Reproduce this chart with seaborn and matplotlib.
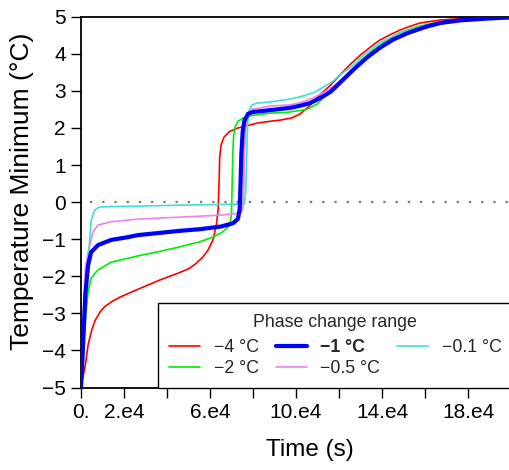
import numpy as np
import pandas as pd
import matplotlib
matplotlib.use("Agg")
import matplotlib.pyplot as plt
import seaborn as sns
from matplotlib.lines import Line2D

# ---- data (time in units of 1e4 s, temperature in degC) ----
labels = ["\u22124 \u00b0C", "\u22122 \u00b0C", "\u22121 \u00b0C", "\u22120.5 \u00b0C", "\u22120.1 \u00b0C"]
colors = ["#ff0000", "#00ee00", "#0000ff", "#ee82ee", "#40e0d0"]

t_m4 = [0, 0.1, 0.2, 0.33, 0.5, 0.65, 0.9, 1.1, 1.5, 1.86, 2.65, 3.67, 4.5, 5.0, 5.3, 5.67, 5.9, 6.14, 6.3, 6.38,
        6.42, 6.45, 6.52, 6.65, 6.9, 7.3, 8.2, 8.8, 9.26, 9.8, 10.2, 10.6, 11.1, 11.6, 12.05, 12.5, 13.0,
        13.5, 13.9, 14.4, 14.84, 15.3, 15.77, 16.7, 17.95, 19.0, 20.5]
y_m4 = [-5, -4.7, -4.4, -3.85, -3.45, -3.2, -2.95, -2.82, -2.66, -2.55, -2.35, -2.1, -1.92, -1.8, -1.68, -1.48,
        -1.3, -1.02, -0.6, -0.2, 0.5, 1.2, 1.55, 1.75, 1.9, 2.0, 2.13, 2.18, 2.21, 2.27, 2.38, 2.58, 2.89, 3.15,
        3.43, 3.7, 3.97, 4.2, 4.37, 4.52, 4.64, 4.74, 4.83, 4.91, 4.96, 4.98, 5.0]

t_m2 = [0, 0.1, 0.2, 0.33, 0.47, 0.79, 1.4, 2.14, 2.65, 3.67, 4.5, 5.53, 6.2, 6.6, 6.93, 7.0, 7.03, 7.06,
        7.1, 7.18, 7.3, 7.55, 7.86, 8.3, 8.8, 9.58, 10.5, 11.0, 11.4, 12.0, 12.5, 13.0, 13.6, 14.2, 14.8,
        15.6, 16.4, 17.3, 18.2, 19.2, 20.5]
y_m2 = [-5, -4.2, -3.2, -2.42, -2.05, -1.83, -1.62, -1.52, -1.45, -1.33, -1.22, -1.07, -0.93, -0.8, -0.62,
        -0.3, 0.5, 1.3, 1.8, 2.05, 2.18, 2.27, 2.33, 2.36, 2.4, 2.42, 2.5, 2.65, 2.89, 3.2, 3.5, 3.8, 4.1,
        4.35, 4.56, 4.72, 4.83, 4.9, 4.94, 4.97, 4.99]

t_m1 = [0, 0.1, 0.2, 0.33, 0.47, 0.79, 1.4, 2.14, 2.65, 3.67, 4.5, 5.53, 6.5, 7.07, 7.3, 7.38, 7.42, 7.46,
        7.52, 7.6, 7.77, 8.0, 8.33, 8.79, 9.72, 10.2, 10.65, 11.1, 11.6, 12.1, 12.65, 13.3, 13.9, 14.5,
        15.2, 16.0, 16.7, 17.6, 18.6, 19.6, 20.5]
y_m1 = [-5, -3.8, -2.5, -1.7, -1.35, -1.16, -1.02, -0.95, -0.89, -0.83, -0.78, -0.73, -0.66, -0.57, -0.45,
        -0.2, 0.5, 1.3, 1.9, 2.2, 2.38, 2.43, 2.45, 2.48, 2.54, 2.6, 2.67, 2.8, 2.97, 3.25, 3.56, 3.9, 4.16,
        4.38, 4.56, 4.72, 4.83, 4.9, 4.94, 4.97, 4.99]

t_m05 = [0, 0.1, 0.2, 0.33, 0.42, 0.56, 0.79, 1.4, 2.65, 3.67, 5.2, 6.5, 7.4, 7.52, 7.57, 7.6, 7.64, 7.7,
         7.8, 7.95, 8.33, 8.79, 9.72, 10.3, 10.8, 11.2, 11.7, 12.2, 12.8, 13.4, 14.0, 14.7, 15.4, 16.2,
         17.0, 18.0, 18.9, 20.5]
y_m05 = [-5, -3.2, -1.8, -1.35, -1.16, -0.8, -0.62, -0.53, -0.46, -0.43, -0.39, -0.35, -0.3, -0.2, 0.5,
         1.3, 1.9, 2.25, 2.42, 2.5, 2.54, 2.59, 2.62, 2.7, 2.81, 2.93, 3.1, 3.35, 3.64, 3.92, 4.18, 4.4,
         4.59, 4.73, 4.83, 4.9, 4.94, 4.98]

t_m01 = [0, 0.1, 0.2, 0.33, 0.42, 0.47, 0.56, 0.65, 0.8, 0.93, 1.5, 2.65, 4.0, 6.0, 7.6, 7.66, 7.7, 7.72,
         7.75, 7.8, 7.95, 8.2, 8.79, 9.26, 9.72, 10.2, 10.8, 11.1, 11.7, 12.05, 12.8, 13.0, 13.9, 14.84,
         15.77, 17.0, 18.2, 19.2, 20.5]
y_m01 = [-5, -3.6, -2.6, -1.6, -0.9, -0.53, -0.32, -0.21, -0.15, -0.13, -0.12, -0.11, -0.09, -0.07, -0.05,
         0.3, 1.0, 1.6, 2.1, 2.45, 2.62, 2.67, 2.7, 2.74, 2.78, 2.84, 2.95, 3.04, 3.25, 3.43, 3.75, 3.89,
         4.29, 4.56, 4.72, 4.86, 4.94, 4.97, 4.99]

series_t = [t_m4, t_m2, t_m1, t_m05, t_m01]
series_y = [y_m4, y_m2, y_m1, y_m05, y_m01]

xtick_vals = [0, 2, 4, 6, 8, 10, 12, 14, 16, 18, 20]
xtick_labels = ["0.", "2.e4", "", "6.e4", "", "10.e4", "", "14.e4", "", "18.e4", ""]
ytick_vals = [-5, -4, -3, -2, -1, 0, 1, 2, 3, 4, 5]

# ---- plotting ----
sns.set_theme(style="white")
plt.rcParams["font.family"] = ["Liberation Sans", "DejaVu Sans"]
plt.rcParams["axes.unicode_minus"] = True

W, H = 509, 470
fig = plt.figure(figsize=(W / 100, H / 100), dpi=100)
ax_l, ax_r, ax_t, ax_b = 81, 511, 16.7, 387.5
ax = fig.add_axes([ax_l / W, 1 - ax_b / H, (ax_r - ax_l) / W, (ax_b - ax_t) / H])

widths = [1.2, 1.2, 3.0, 1.2, 1.2]
frames = []
for lab, t, y in zip(labels, series_t, series_y):
    frames.append(pd.DataFrame({"time": np.array(t) * 1e4, "temp": y, "range": lab}))
df = pd.concat(frames, ignore_index=True)

ax.plot([0.4e4, 20e4], [0, 0], linestyle=(0, (1, 4.5)), color="#777777", lw=1.6, zorder=1)

for lab, col, lw in zip(labels, colors, widths):
    sub = df[df["range"] == lab]
    sns.lineplot(data=sub, x="time", y="temp", color=col, lw=lw, ax=ax, sort=False,
                 estimator=None, legend=False, zorder=3 if lw > 2 else 2)

ax.set_xlim(0, 20e4)
ax.set_ylim(-5, 5)
ax.set_xticks([v * 1e4 for v in xtick_vals])
ax.set_xticklabels(xtick_labels)
ax.set_yticks(ytick_vals)
ax.set_yticklabels([str(v).replace("-", "\u2212") for v in ytick_vals])
ax.tick_params(axis="both", direction="out", length=7, width=1, color="black",
               labelsize=15, labelcolor="black", pad=4, left=True, bottom=True)
for s in ["left", "bottom", "top", "right"]:
    ax.spines[s].set_visible(True)
    ax.spines[s].set_color("black")
    ax.spines[s].set_linewidth(1.3)
ax.set_xlabel("Time (s)", fontsize=17.5, color="black")
ax.set_ylabel("Temperature Minimum (\u00b0C)", fontsize=19, color="black")
ax.xaxis.set_label_coords(0.533, -0.14)
ax.yaxis.set_label_coords(-0.11, 0.53)
ax.grid(False)

handles = [Line2D([], [], color=c, lw=lw) for c, lw in zip(colors, widths)]
leg = ax.legend(handles, labels, title="Phase change range", ncol=3, loc="lower left",
                bbox_to_anchor=(0.179, 0.0), borderaxespad=0, fontsize=12.8, title_fontsize=12.8,
                frameon=True, fancybox=False, edgecolor="black", framealpha=1,
                handlelength=1.75, handletextpad=0.78, columnspacing=0.95, labelspacing=0.22,
                borderpad=0.6)
leg.get_frame().set_linewidth(1.0)
try:
    leg._legend_box.sep = 6.0
except Exception:
    pass
for txt in leg.get_texts():
    if txt.get_text() == "\u22121 \u00b0C":
        txt.set_fontweight("bold")

fig.savefig("out.png", dpi=100)
